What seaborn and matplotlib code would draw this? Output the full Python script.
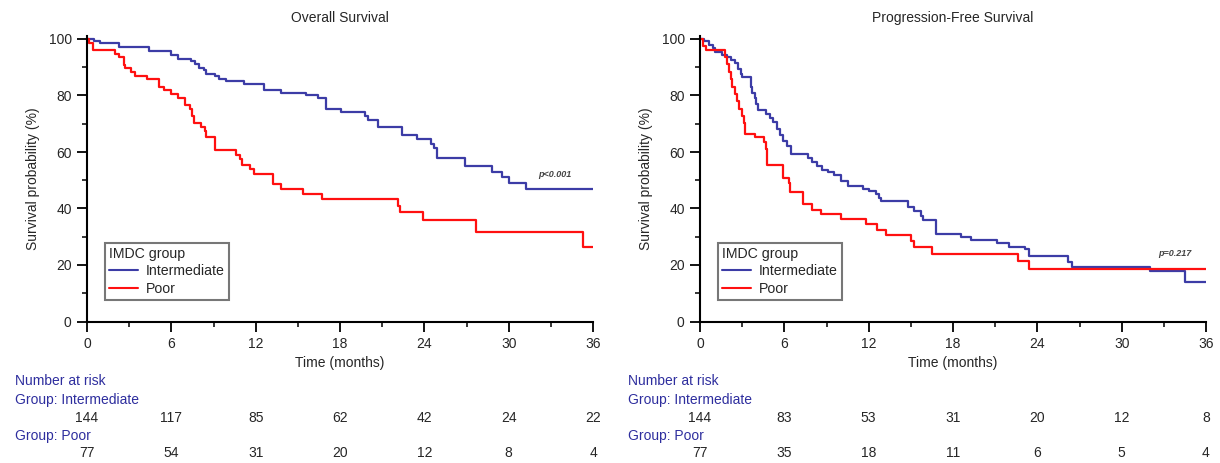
import numpy as np
import pandas as pd
import matplotlib
matplotlib.use("Agg")
import matplotlib.pyplot as plt
import seaborn as sns
from matplotlib.lines import Line2D
from matplotlib.ticker import MultipleLocator
from matplotlib.transforms import blended_transform_factory

# ---------------- data ----------------
groups = ["Intermediate", "Poor"]

os_int_t = [0, 0.5, 0.9, 2.3, 4.4, 6.0, 6.5, 7.4, 7.7, 8.0, 8.3, 8.5, 9.1, 9.4, 9.9, 11.2, 12.6, 13.8,
            15.6, 16.4, 17.0, 18.1, 19.8, 20.0, 20.7, 22.4, 23.5, 24.5, 24.7, 24.9, 26.9, 28.8, 29.5,
            30.0, 31.2, 36]
os_int_s = [100, 99.3, 98.6, 97.2, 95.8, 94.4, 93.0, 92.2, 91.0, 89.6, 88.9, 87.5, 86.8, 86.0, 85.2,
            84.2, 82.1, 81.0, 80.0, 79.0, 75.3, 74.0, 72.6, 71.5, 69.0, 66.0, 64.5, 63.0, 61.5, 58.0,
            55.0, 53.0, 51.0, 49.0, 47.0, 47.0]

os_poor_t = [0, 0.15, 0.4, 2.0, 2.3, 2.6, 2.7, 3.1, 3.4, 4.3, 5.1, 5.5, 6.0, 6.5, 7.0, 7.3, 7.5, 7.6,
             8.1, 8.4, 8.5, 9.1, 10.6, 10.9, 11.0, 11.6, 11.9, 13.2, 13.8, 15.4, 16.7, 22.1, 22.3,
             23.9, 27.7, 35.3, 36]
os_poor_s = [100, 98.7, 96.1, 94.8, 93.5, 90.9, 89.6, 88.3, 87.0, 85.7, 83.1, 81.8, 80.5, 79.2, 76.6,
             75.3, 72.7, 70.1, 68.8, 67.5, 65.3, 60.6, 59.0, 57.5, 55.3, 54.0, 52.1, 48.6, 47.0, 45.2,
             43.2, 41.0, 38.8, 35.8, 31.8, 26.4, 26.4]

pfs_int_t = [0, 0.25, 0.67, 0.9, 1.1, 1.6, 1.9, 2.2, 2.5, 2.7, 2.9, 3.0, 3.6, 3.7, 3.9, 4.0, 4.1, 4.7,
             5.0, 5.2, 5.5, 5.7, 5.9, 6.2, 6.5, 7.7, 8.0, 8.3, 8.7, 9.1, 9.5, 10.0, 10.5, 11.6, 12.0,
             12.5, 12.7, 12.9, 14.8, 15.2, 15.7, 15.9, 16.8, 18.6, 19.3, 21.1, 22.0, 23.1, 23.4, 26.2,
             26.5, 32.0, 34.5, 36]
pfs_int_s = [100, 99.3, 98.0, 96.7, 95.3, 94.3, 93.5, 92.7, 91.5, 89.5, 87.5, 86.4, 83.0, 81.0, 79.0,
             77.0, 75.0, 73.5, 72.0, 70.5, 68.0, 66.0, 64.0, 62.0, 59.2, 58.0, 56.5, 55.0, 53.8, 53.0,
             52.0, 49.6, 48.0, 47.0, 46.2, 45.0, 43.8, 42.6, 40.5, 39.0, 37.5, 35.8, 31.0, 29.8, 28.8,
             27.7, 26.5, 25.5, 23.2, 21.1, 19.4, 17.7, 14.1, 14.1]

pfs_poor_t = [0, 0.2, 0.4, 1.8, 1.9, 2.05, 2.2, 2.3, 2.5, 2.6, 2.75, 3.0, 3.1, 3.2, 3.9, 4.55, 4.7, 4.8,
              5.9, 6.3, 6.4, 7.3, 8.0, 8.6, 10.0, 11.8, 12.6, 13.2, 15.0, 15.2, 16.5, 22.6, 23.4, 36]
pfs_poor_s = [100, 97.4, 96.1, 93.5, 91.0, 88.3, 85.7, 83.1, 80.5, 78.0, 75.3, 72.7, 70.1, 66.5, 65.3,
              63.6, 61.0, 55.3, 50.7, 49.0, 46.0, 41.5, 39.6, 38.0, 36.3, 34.5, 32.5, 30.5, 28.4, 26.2,
              24.0, 21.3, 18.6, 18.6]

risk_times = [0, 6, 12, 18, 24, 30, 36]
os_risk_int = [144, 117, 85, 62, 42, 24, 22]
os_risk_poor = [77, 54, 31, 20, 12, 8, 4]
pfs_risk_int = [144, 83, 53, 31, 20, 12, 8]
pfs_risk_poor = [77, 35, 18, 11, 6, 5, 4]

titles = ["Overall Survival", "Progression-Free Survival"]
p_texts = ["p<0.001", "p=0.217"]
p_pos = [(33.3, 50.5), (33.8, 22.5)]

# ---------------- style ----------------
sns.set_style("white")
plt.rcParams["font.family"] = ["Liberation Sans", "DejaVu Sans"]
plt.rcParams["font.size"] = 10

BLUE = "#3c3ca6"
RED = "#ff1010"
LBLUE = "#2e2e9e"
palette = {"Intermediate": BLUE, "Poor": RED}

W, H = 1220, 463
fig = plt.figure(figsize=(W / 100, H / 100), dpi=100)


def fx(px):
    return px / W


def fy(py):
    return 1 - py / H


def make_df(ti, si, tp, sp):
    return pd.concat([
        pd.DataFrame({"time": ti, "surv": si, "group": "Intermediate"}),
        pd.DataFrame({"time": tp, "surv": sp, "group": "Poor"}),
    ], ignore_index=True)


panels = [
    dict(left=87, right=593, df=make_df(os_int_t, os_int_s, os_poor_t, os_poor_s),
         ri=os_risk_int, rp=os_risk_poor, risk_x=15),
    dict(left=700, right=1206, df=make_df(pfs_int_t, pfs_int_s, pfs_poor_t, pfs_poor_s),
         ri=pfs_risk_int, rp=pfs_risk_poor, risk_x=628),
]

y0_px, y100_px = 321.5, 39.0
ymax = 101
ppu = (y0_px - y100_px) / 100
top_px = y0_px - ymax * ppu

for i, p in enumerate(panels):
    ax = fig.add_axes([fx(p["left"]), fy(y0_px), fx(p["right"] - p["left"]), (y0_px - top_px) / H])
    sns.lineplot(data=p["df"], x="time", y="surv", hue="group", palette=palette,
                 estimator=None, sort=False, drawstyle="steps-post", linewidth=1.6,
                 legend=False, ax=ax)
    ax.set_xlim(0, 36)
    ax.set_ylim(0, ymax)
    ax.set_xticks(risk_times)
    ax.set_yticks([0, 20, 40, 60, 80, 100])
    ax.xaxis.set_minor_locator(MultipleLocator(3))
    ax.yaxis.set_minor_locator(MultipleLocator(10))
    ax.tick_params(which="major", direction="out", length=7, width=1.3, labelsize=10,
                   bottom=True, left=True, color="black", pad=4)
    ax.tick_params(which="minor", direction="out", length=3.5, width=1.1,
                   bottom=True, left=True, color="black")
    for side in ["top", "right"]:
        ax.spines[side].set_visible(False)
    for side in ["left", "bottom"]:
        ax.spines[side].set_color("black")
        ax.spines[side].set_linewidth(1.5)
    ax.set_xlabel("Time (months)", fontsize=10, labelpad=4)
    ax.set_ylabel("Survival probability (%)", fontsize=10, labelpad=6)
    ax.set_title(titles[i], fontsize=10, pad=10)
    ax.patch.set_alpha(0)

    ax.text(p_pos[i][0], p_pos[i][1], p_texts[i], fontsize=6.5, style="italic",
            fontweight="bold", color="#444444", ha="center", va="bottom")

    handles = [Line2D([], [], color=palette[g], lw=1.5) for g in groups]
    leg = ax.legend(handles, groups, title="IMDC group", loc="upper left",
                    bbox_to_anchor=((105 - 87) / 506, (y0_px - 243) / (y0_px - top_px)),
                    fontsize=10.2, title_fontsize=10.2, frameon=True, fancybox=False,
                    edgecolor="#555555", handlelength=2.0, handletextpad=0.6,
                    borderpad=0.3, labelspacing=0.28, borderaxespad=0)
    leg._legend_box.align = "left"
    leg._legend_box.sep = 2
    leg.get_frame().set_linewidth(1.5)

    # number at risk table
    tr = blended_transform_factory(ax.transData, fig.transFigure)
    fig.text(fx(p["risk_x"]), fy(381), "Number at risk", color=LBLUE, fontsize=10, va="center")
    fig.text(fx(p["risk_x"]), fy(400), "Group: Intermediate", color=LBLUE, fontsize=10, va="center")
    fig.text(fx(p["risk_x"]), fy(436), "Group: Poor", color=LBLUE, fontsize=10, va="center")
    for t, a, b in zip(risk_times, p["ri"], p["rp"]):
        ax.text(t, fy(418), str(a), transform=tr, ha="center", va="center", fontsize=10)
        ax.text(t, fy(453), str(b), transform=tr, ha="center", va="center", fontsize=10)

fig.savefig("out.png", dpi=100, facecolor="white")
